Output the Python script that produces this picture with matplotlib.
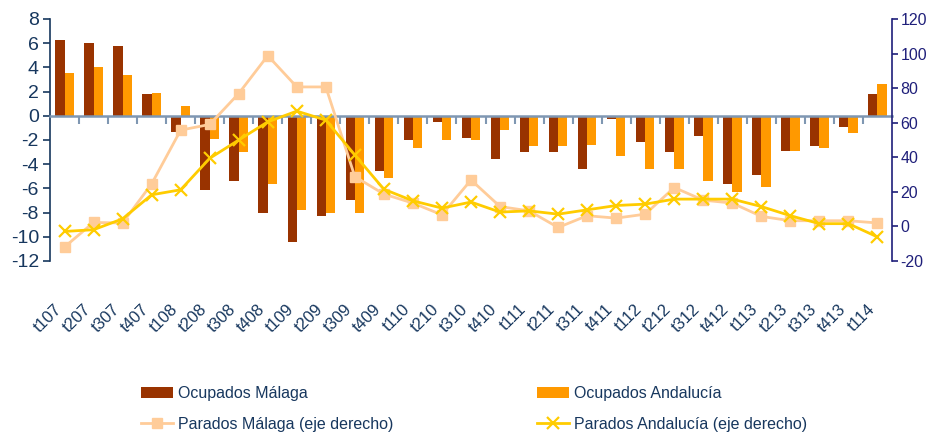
import numpy as np
import matplotlib
matplotlib.use("Agg")
import matplotlib.pyplot as plt

plt.rcParams["font.family"] = ["Liberation Sans", "DejaVu Sans"]
plt.rcParams["axes.unicode_minus"] = False

# datos (variación interanual, %)
trimestres = ["t107", "t207", "t307", "t407",
              "t108", "t208", "t308", "t408",
              "t109", "t209", "t309", "t409",
              "t110", "t210", "t310", "t410",
              "t111", "t211", "t311", "t411",
              "t112", "t212", "t312", "t412",
              "t113", "t213", "t313", "t413",
              "t114"]
ocupados_malaga = [6.3, 6.0, 5.75, 1.8, -1.3, -6.1, -5.4, -8.0, -10.4, -8.3, -7.0, -4.6,
                   -2.0, -0.5, -1.8, -3.6, -3.0, -3.0, -4.4, -0.3, -2.2, -3.0, -1.7, -5.6,
                   -4.9, -2.9, -2.5, -0.9, 1.8]
ocupados_andalucia = [3.5, 4.0, 3.4, 1.9, 0.8, -1.9, -3.0, -5.6, -7.8, -8.0, -8.0, -5.1,
                      -2.7, -2.0, -2.0, -1.2, -2.5, -2.5, -2.4, -3.3, -4.4, -4.4, -5.4, -6.3,
                      -5.9, -2.9, -2.7, -1.4, 2.6]
parados_malaga = [-11.9, 2.3, 2.0, 24.6, 55.7, 59.0, 76.9, 98.8, 80.7, 80.7, 28.8, 18.7,
                  13.5, 6.7, 26.9, 11.5, 9.0, -0.6, 6.2, 4.8, 7.1, 22.5, 15.2, 13.5,
                  5.8, 3.3, 3.3, 3.3, 2.0]
parados_andalucia = [-2.9, -1.9, 4.4, 18.3, 21.2, 39.4, 50.0, 60.5, 66.7, 61.5, 41.3, 21.5,
                     14.8, 10.6, 14.1, 8.3, 9.0, 7.1, 9.6, 12.1, 12.9, 15.8, 15.8, 15.8,
                     11.5, 6.2, 1.6, 1.6, -6.1]

navy = "#17375E"
navy_right = "#1F1F7A"
axis_grey = "#7F97B2"

fig = plt.figure(figsize=(9.3, 4.37), dpi=100)
ax = fig.add_axes([50 / 930, 1 - 261 / 437, 842 / 930, 242 / 437])
ax2 = ax.twinx()

x = np.arange(len(trimestres))
w = 0.32
ax.bar(x - w / 2, ocupados_malaga, w, color="#993300", label="Ocupados Málaga")
ax.bar(x + w / 2, ocupados_andalucia, w, color="#FF9900", label="Ocupados Andalucía")

ax2.plot(x, parados_malaga, color="#FFCC99", lw=2, marker="s", ms=7,
         label="Parados Málaga (eje derecho)")
ax2.plot(x, parados_andalucia, color="#FFCC00", lw=2, marker="x", ms=9, mew=1.6,
         label="Parados Andalucía (eje derecho)")

ax.set_xlim(-0.5, len(trimestres) - 0.5)
ax.set_ylim(-12, 8)
ax.set_yticks(np.arange(-12, 9, 2))
ax2.set_ylim(-20, 120)
ax2.set_yticks(np.arange(-20, 121, 20))

# eje horizontal en el cero con marcas entre trimestres
ax.spines["bottom"].set_position(("data", 0))
ax.spines["bottom"].set_color(axis_grey)
ax.spines["bottom"].set_linewidth(1.8)
ax.set_xticks(x[:-1] + 0.5)
ax.tick_params(axis="x", direction="out", length=6, width=1.5, color=axis_grey,
               labelbottom=False)

for s in ["top", "right"]:
    ax.spines[s].set_visible(False)
for s in ["top", "left", "bottom"]:
    ax2.spines[s].set_visible(False)
ax.spines["left"].set_color(navy)
ax.spines["left"].set_linewidth(1.2)
ax2.spines["right"].set_color(navy_right)
ax2.spines["right"].set_linewidth(1.2)
ax.tick_params(axis="y", colors=navy, labelsize=14, length=5, width=1.2, pad=3)
ax2.tick_params(axis="y", colors=navy_right, labelsize=11.5, length=4, width=1.2, pad=2)

# etiquetas de trimestre en la parte baja
sec = ax.secondary_xaxis("bottom")
sec.set_xticks(x, trimestres, rotation=45, ha="right")
sec.tick_params(length=0, pad=29, labelsize=12, labelcolor=navy)
sec.spines["bottom"].set_visible(False)

h1, l1 = ax.get_legend_handles_labels()
h2, l2 = ax2.get_legend_handles_labels()
handles = [h1[0], h2[0], h1[1], h2[1]]
labels = [l1[0], l2[0], l1[1], l2[1]]
fig.legend(handles, labels, ncol=2, loc="upper left",
           bbox_to_anchor=(133 / 930, 1 - 378 / 437), frameon=False,
           fontsize=11.5, labelcolor=navy, borderpad=0, handlelength=2.0,
           handletextpad=0.3, columnspacing=9.0, labelspacing=1.0, numpoints=1)

fig.savefig("out.png", dpi=100)
